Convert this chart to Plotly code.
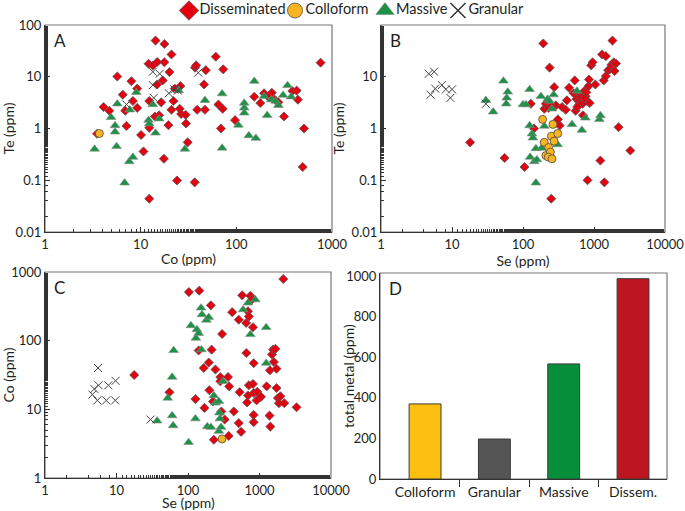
import plotly.graph_objects as go

# ---------------- data ----------------
# Panel A: Co vs Te
A_diss_co = [3.5,4.1,4.7,5.7,6.5,6.9,7.1,8.0,8.3,9.2,9.2,10.1,10.7,12.1,12.3,12.3,12.3,13.4,14.3,14.9,
             14.9,14.1,15.6,16.4,17.5,17.7,17.7,17.0,19.5,20,21,21,22,22.7,24,25.6,26.5,26,29.5,29.8,
             31,36.7,37,38,39,46,47,48,61,65,69,72,73,97,154,178,195,218,235,253,275,315,385,427,440,510,494,760]
A_diss_te = [0.79,2.6,2.2,10.1,4.5,2.2,1.12,8.2,3.4,5.9,2.5,0.75,0.36,17.8,3.4,1.03,0.044,16.5,50,19.3,
             7.1,1.7,1.8,3.2,0.26,43,19,8.5,1.16,12.3,27,2.3,3.4,5.9,0.099,2.4,1.9,6.6,1.84,1.25,
             0.54,0.091,15,16.6,2.3,7.1,2.3,13.4,24.4,2.9,1.0,2.4,13.9,1.45,4.1,3.1,4.8,4.0,4.9,3.6,3.2,1.7,5.3,5.4,3.6,1.0,0.18,18.7]
A_mass_co = [3.3,4.9,5.4,5.4,5.6,5.7,6.8,7.6,7.7,8.3,9.0,12.1,12.3,13.4,14.3,15.6,25,29,47,71,71,105,121,121,121,
             135,154,160,195,210,232,257,275,308,343,374]
A_mass_te = [0.4,1.65,1.14,0.86,0.45,3.0,0.089,0.23,2.3,0.28,5.0,1.45,1.23,2.9,0.82,1.54,5.4,0.40,3.5,4.7,0.42,1.16,3.1,2.5,2.0,
             0.73,8.2,0.65,4.2,1.8,3.6,3.4,2.8,4.4,6.8,4.1]
A_gran_co = [13.4,15.8,13.4,13.7,7.1,19.7,22.5,24.5,40]
A_gran_te = [12.5,11.4,6.9,3.9,2.9,4.8,5.7,5.4,12]
A_coll_co = [3.7]
A_coll_te = [0.8]

# Panel B: Se vs Te
B_diss_se = [18,55,105,129,143,193,200,210,237,250,275,290,310,328,355,400,415,445,516,535,
             565,550,615,645,700,730,760,795,810,840,850,870,915,955,1045,1230,1300,1370,1400,1470,
             1470,1580,1670,1760,1820,1900,1950,2040,2220,3250,660,690,740,780,620,580,230,255]
B_diss_te = [0.54,0.27,0.18,3.0,1.0,44,2.4,3.0,15,0.044,6.3,2.8,1.5,1.14,2.6,2.3,3.5,6.1,4.8,8.5,
             3.7,2.2,3.4,4.5,1.8,5.3,4.2,3.4,0.10,6.6,8.8,3.1,16.6,19,7.1,0.24,27,8.5,0.091,25,
             10.3,13.4,14,17,50,19,12.9,18,1.06,0.375,4.0,3.0,3.9,5.0,2.9,2.6,2.5,2.7]
B_mass_se = [30,38,53,61,59,58,100,110,124,124,126,134,138,144,152,157,152,179,183,200,
             222,235,256,270,285,307,490,575,675,755,1190,1230]
B_mass_te = [3.5,2.1,8.3,5.1,3.9,3.0,2.9,2.9,5.7,1.14,0.28,0.79,0.66,0.23,0.089,0.25,0.41,4.2,0.42,1.11,
             3.7,3.4,2.4,4.5,0.77,0.49,1.2,5.3,0.93,1.6,1.5,1.78]
B_gran_se = [4.7,5.6,5.0,5.8,7.2,8.2,10,9.5,30]
B_gran_te = [11.4,12.5,4.5,5.9,6.9,5.7,5.7,3.9,3.0]
B_coll_se = [189,264,199,230,210,243,227,256,251,274,309]
B_coll_te = [1.5,1.2,0.54,0.43,0.30,0.35,0.28,0.26,0.71,0.57,0.80]

# Panel C: Se vs Co
C_diss_se = [17.7,55,103,144,170,127,141,166,195,209,214,199,242,224,230,283,283,293,300,326,
             363,376,371,415,437,513,528,513,553,573,650,655,670,690,690,710,745,710,790,810,
             830,810,830,830,830,930,910,1050,1260,1380,1400,1420,1490,1550,1590,1670,1730,1730,1810,1870,
             1960,2150,2220,3300]
C_diss_co = [31.6,17.7,510,535,10.5,14.1,72,40,48,327,74,19,38,13,3.6,29.5,25.6,9.3,125,7.1,
             29.5,21.6,4.1,260,9.3,202,17.8,6.3,4.7,457,181,66,12.6,15.9,268,225,450,22.4,400,157,
             47,23.4,17.3,8.3,6.5,18,13.5,15.2,21.6,8.1,37,5.6,63,74,49,76,39,20.4,14.6,12.3,
             15.5,790,12.3,10.7]
C_mass_se = [37,52,60,60,62,63,102,110,127,129,133,141,154,152,157,181,195,186,209,230,
             242,270,275,279,270,290,310,590,690,745,875,1240,1240]
C_mass_co = [6.8,14.6,29.5,8.1,5.8,72,3.3,166,7.3,109,145,128,74,300,240,200,219,5.6,5.5,15.9,
             12.4,13.1,8.9,7.3,4.8,5.5,25.6,283,355,123,395,156,47]
C_gran_se = [5.5,4.6,4.9,5.6,7.7,9.7,5.4,7.2,9.6,30]
C_gran_co = [40,16.4,19.8,22.4,22.4,26,13.5,13.5,13.5,7.1]
C_coll_se = [300]
C_coll_co = [3.7]

# Panel D: total metal
D_categories = ["Colloform", "Granular", "Massive", "Dissem."]
D_values = [370, 197, 567, 987]
D_colors = ["#FDC010", "#555555", "#078E3B", "#BE1621"]

# Legend
LEG_names = ["Disseminated", "Colloform", "Massive", "Granular"]
LEG_keys = ["diss", "coll", "mass", "gran"]
LEG_pos = [189, 295, 385, 458]   # layout positions (pixels) of legend symbols

# ---------------- styles ----------------
FONT = "Lato"
TXT = "#231F20"
STY = {
    "diss": dict(symbol="diamond", size=7, color="#E3000F", line=dict(color="#5a5a5a", width=0.8)),
    "coll": dict(symbol="circle", size=8, color="#F9B51F", line=dict(color="#4a4a4a", width=0.8)),
    "mass": dict(symbol="triangle-up", size=8.5, color="#1B9245", line=dict(color="#8a8a8a", width=0.6)),
    "gran": dict(symbol="x-thin", size=8, color="#444444", line=dict(color="#444444", width=1)),
}

fig = go.Figure()

def add_panel(ax, diss, mass, gran, coll):
    xr, yr = ("x" if ax == 1 else f"x{ax}"), ("y" if ax == 1 else f"y{ax}")
    for key, (xs, ys) in (("diss", diss), ("mass", mass), ("gran", gran), ("coll", coll)):
        fig.add_trace(go.Scatter(x=xs, y=ys, mode="markers", marker=STY[key],
                                 xaxis=xr, yaxis=yr, showlegend=False, hoverinfo="x+y"))

add_panel(1, (A_diss_co, A_diss_te), (A_mass_co, A_mass_te), (A_gran_co, A_gran_te), (A_coll_co, A_coll_te))
add_panel(2, (B_diss_se, B_diss_te), (B_mass_se, B_mass_te), (B_gran_se, B_gran_te), (B_coll_se, B_coll_te))
add_panel(3, (C_diss_se, C_diss_co), (C_mass_se, C_mass_co), (C_gran_se, C_gran_co), (C_coll_se, C_coll_co))

fig.add_trace(go.Bar(x=list(range(len(D_categories))), y=D_values, marker=dict(color=D_colors,
                     line=dict(color="#3a3a3a", width=1)), width=0.46, xaxis="x4", yaxis="y4",
                     showlegend=False))

# custom legend row on a hidden axis
for name, key, px in zip(LEG_names, LEG_keys, LEG_pos):
    m = dict(STY[key])
    m["size"] = 15 if key != "mass" else 16
    if key == "gran":
        m["line"] = dict(color="#333333", width=1.5)
    fig.add_trace(go.Scatter(x=[px], y=[0.5], mode="markers+text", marker=m, text=[name],
                             textposition="middle right",
                             textfont=dict(family=FONT, size=14.5, color=TXT),
                             xaxis="x5", yaxis="y5", showlegend=False, hoverinfo="skip",
                             cliponaxis=False))

W, H = 685, 511
def dx(a, b): return [a / W, b / W]
def dy(top, bot): return [1 - bot / H, 1 - top / H]

tickfont = dict(family=FONT, size=13, color=TXT)
titlefont = dict(family=FONT, size=14, color=TXT)

def logaxis(domain, anchor, rng, tickvals, title, standoff=3):
    return dict(domain=domain, anchor=anchor, type="log", range=rng,
                tickmode="array", tickvals=tickvals, ticktext=[f"{v:g}" for v in tickvals],
                showline=True, linecolor="#333333", linewidth=1.2, mirror=False,
                ticks="inside", ticklen=5, tickcolor="#333333", tickwidth=1,
                minor=dict(ticks="inside", ticklen=3, tickcolor="#333333", showgrid=False),
                showgrid=False, zeroline=False, tickfont=tickfont,
                title=dict(text=title, font=titlefont, standoff=standoff))

lay = dict(
    width=W, height=H, margin=dict(l=0, r=0, t=0, b=0, autoexpand=False),
    paper_bgcolor="white", plot_bgcolor="white",
    font=dict(family=FONT, color=TXT),
    showlegend=False,
)
lay["xaxis"] = logaxis(dx(45, 332), "y", [0, 3], [1, 10, 100, 1000], "Co (ppm)")
lay["yaxis"] = logaxis(dy(25, 232), "x", [-2, 2], [0.01, 0.1, 1, 10, 100], "Te (ppm)")
lay["xaxis2"] = logaxis(dx(381, 665), "y2", [0, 4], [1, 10, 100, 1000, 10000], "Se (ppm)")
lay["yaxis2"] = logaxis(dy(25, 232), "x2", [-2, 2], [0.01, 0.1, 1, 10], "Te (ppm)")
lay["xaxis3"] = logaxis(dx(45, 331), "y3", [0, 4], [1, 10, 100, 1000, 10000], "")
lay["yaxis3"] = logaxis(dy(272, 478), "x3", [0, 3], [1, 10, 100, 1000], "Co (ppm)")
lay["xaxis4"] = dict(domain=dx(380, 667), anchor="y4", range=[-0.65, 3.49],
                     tickmode="array", tickvals=list(range(len(D_categories))), ticktext=D_categories,
                     ticks="", showline=True, linecolor="#333333", linewidth=1.2,
                     minor=dict(tickmode="array", tickvals=[0.5, 1.5, 2.5], ticks="outside",
                                ticklen=7, tickcolor="#333333", tickwidth=1.2, showgrid=False),
                     showgrid=False, zeroline=False, tickfont=dict(family=FONT, size=14, color=TXT))
lay["yaxis4"] = dict(domain=dy(273, 479), anchor="x4", range=[0, 1015],
                     tickmode="array", tickvals=[0, 200, 400, 600, 800, 1000],
                     showline=True, linecolor="#333333", linewidth=1.2, ticks="",
                     showgrid=False, zeroline=False, tickfont=tickfont)
lay["xaxis5"] = dict(domain=[0, 1], anchor="y5", range=[0, W], visible=False, fixedrange=True)
lay["yaxis5"] = dict(domain=dy(0, 21), anchor="x5", range=[0, 1], visible=False, fixedrange=True)
fig.update_layout(**lay)

# C x-axis title and D y-axis title placed as in the reference
fig.add_annotation(text="Se (ppm)", xref="x3 domain", yref="paper", x=0.5, y=1 - 502 / H,
                   showarrow=False, xanchor="center", yanchor="middle", font=titlefont)
fig.add_annotation(text="total metal (ppm)", xref="paper", yref="y4 domain", x=348 / W, y=0.5,
                   textangle=-90, showarrow=False, xanchor="center", yanchor="middle",
                   font=titlefont)

# frame boxes and panel letters
for i, letter in ((1, "A"), (2, "B"), (3, "C"), (4, "D")):
    xr = "x" if i == 1 else f"x{i}"
    yr = "y" if i == 1 else f"y{i}"
    fig.add_shape(type="rect", xref=f"{xr} domain", yref=f"{yr} domain", x0=0, x1=1, y0=0, y1=1,
                  line=dict(color="#777777", width=1.2), layer="below")
    fig.add_annotation(text=letter, xref=f"{xr} domain", yref=f"{yr} domain", x=0.025, y=0.985,
                       xanchor="left", yanchor="top", showarrow=False,
                       font=dict(family=FONT, size=17, color=TXT))

fig.write_html("out.html", config={"displayModeBar": False},
               post_script="document.body.style.margin='0px';")
